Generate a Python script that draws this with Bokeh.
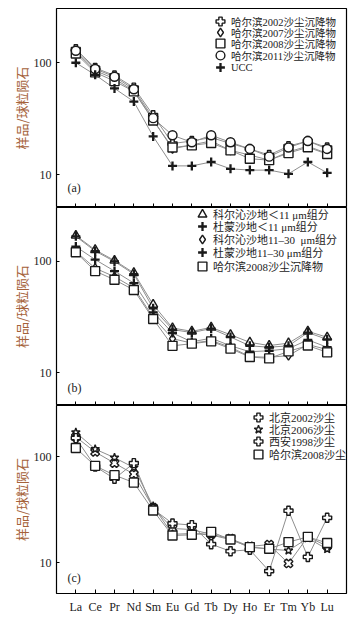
import math
from bokeh.plotting import figure
from bokeh.models import Range1d, FixedTicker, Legend, LegendItem, Label
from bokeh.layouts import column
from bokeh.embed import file_html
from bokeh.resources import INLINE

elements = ["La", "Ce", "Pr", "Nd", "Sm", "Eu", "Gd", "Tb", "Dy", "Ho", "Er", "Tm", "Yb", "Lu"]
xpos = list(range(1, 15))

# Panel (a)
harbin2002 = [132, 90, 77, 60, 34, 19, 20, 21.5, 19, 17, 15, 18, 20, 17.5]
harbin2007 = [125, 85, 72, 56, 31, 17, 18.5, 20, 16.5, 15, 13.5, 16, 18, 15.5]
harbin2008 = [121, 82, 68.5, 55.5, 30.5, 17.5, 18.3, 19.2, 16.5, 13.9, 13.5, 15.6, 17.6, 15.3]
harbin2011 = [128, 88, 75, 58, 32, 22.5, 19.5, 22.5, 19.5, 17, 14.5, 17.5, 20, 17]
ucc = [100, 78, 59, 45, 22, 12, 12, 13, 11.3, 11, 11, 10.2, 13, 10.4]

# Panel (b)
horqin_lt11 = [171, 127, 102, 79, 41, 25.3, 23.6, 25.6, 22, 18.8, 17.6, 18.5, 23.6, 20.9]
dumeng_lt11 = [168, 124, 100, 77, 38, 24.5, 23, 25, 21, 17.5, 17, 17.5, 23, 20]
horqin_11_30 = [123, 87, 73, 58, 31.5, 20.3, 18.5, 19.5, 17, 14, 13.8, 14.3, 18, 16.2]
dumeng_11_30 = [136, 104, 82, 64, 35, 22.8, 19, 20.5, 17.5, 15.5, 15.8, 16.5, 19.8, 17]

# Panel (c)
beijing2002 = [154, 111, 87, 68.5, 33, 21, 20.5, 18.5, 16.8, 14.2, 14.8, 9.8, 17.5, 14.3]
beijing2006 = [170, 118, 98, 79, 34, 18.5, 18.8, 18.2, 16.5, 14, 13.4, 13, 17, 13.4]
xian1998 = [150, 81, 62, 87, 32, 23.4, 22.6, 14.9, 12.8, 13.2, 8.3, 30.9, 11.3, 26.5]
harbin2008c = [121, 82, 67, 57, 31, 18, 18.3, 19.5, 16.5, 14, 13.5, 15.6, 17.5, 15.3]

SERIF = "Liberation Serif"
CJK = "Liberation Serif, Noto Sans CJK SC"
LABEL_COLOR = "#a5623a"

LEFT = 56
RIGHT = 4
W = LEFT + 290 + RIGHT


def make_panel(series, tag, tag_y, height, top, bottom, show_x, leg_x, leg_ys, fs):
    p = figure(width=W, height=height, y_axis_type="log",
               x_range=Range1d(0, 15), y_range=Range1d(5.1, 305),
               output_backend="svg", toolbar_location=None,
               min_border_left=LEFT, min_border_right=RIGHT,
               min_border_top=top, min_border_bottom=bottom)
    p.grid.visible = False
    p.outline_line_color = "black"
    p.outline_line_width = 1.2
    p.background_fill_color = "white"
    p.border_fill_color = "white"

    # y axis
    p.yaxis.ticker = FixedTicker(ticks=[10, 100], minor_ticks=[])
    p.yaxis.major_label_overrides = {10: "10", 100: "100"}
    p.yaxis.major_tick_in = 3
    p.yaxis.major_tick_out = 0
    p.yaxis.minor_tick_in = 0
    p.yaxis.minor_tick_out = 0
    p.yaxis.major_label_text_font = SERIF
    p.yaxis.major_label_text_font_size = "12px"
    p.yaxis.major_label_text_color = "#222222"
    p.yaxis.major_label_standoff = 5
    p.yaxis.axis_line_color = None
    p.yaxis.axis_label = "样品/球粒陨石"
    p.yaxis.axis_label_text_font = "Noto Sans CJK SC"
    p.yaxis.axis_label_text_font_size = "13px"
    p.yaxis.axis_label_text_font_style = "normal"
    p.yaxis.axis_label_text_color = LABEL_COLOR
    p.yaxis.axis_label_standoff = 0

    # x axis
    p.xaxis.ticker = FixedTicker(ticks=xpos, minor_ticks=[])
    p.xaxis.major_tick_in = 4
    p.xaxis.major_tick_out = 0
    p.xaxis.axis_line_color = None
    if show_x:
        p.xaxis.major_label_overrides = {i: e for i, e in zip(xpos, elements)}
        p.xaxis.major_label_text_font = SERIF
        p.xaxis.major_label_text_font_size = "12px"
        p.xaxis.major_label_text_color = "#222222"
        p.xaxis.major_label_standoff = 6
    else:
        p.xaxis.major_label_overrides = {i: "" for i in xpos}
        p.xaxis.major_label_text_font_size = "0px"
        p.xaxis.major_label_standoff = 0

    for label, vals, marker, angle, lw in series:
        p.line(xpos, vals, line_color="#8e8e8e", line_width=1)
    for (label, vals, marker, angle, lw), ly in zip(series, leg_ys):
        r = p.scatter(xpos, vals, marker=marker, angle=angle, size=9,
                      line_color="#1a1a1a", line_width=lw,
                      fill_color="white")
        leg = Legend(items=[LegendItem(label=label, renderers=[r])],
                     location=(leg_x, ly),
                     glyph_width=22, glyph_height=22, label_height=10,
                     spacing=0, padding=0, margin=0, label_standoff=0,
                     label_text_font=CJK, label_text_font_size=fs,
                     label_text_color="#222222",
                     border_line_alpha=0, background_fill_alpha=0)
        p.add_layout(leg, "center")

    p.add_layout(Label(x=11, y=tag_y, x_units="screen", y_units="screen", text=tag,
                       text_font=SERIF, text_font_size="12px",
                       text_color="#222222", text_baseline="middle"))
    return p


pa = make_panel([
    ("哈尔滨2002沙尘沉降物", harbin2002, "plus", 0, 1.4),
    ("哈尔滨2007沙尘沉降物", harbin2007, "diamond", 0, 1.4),
    ("哈尔滨2008沙尘沉降物", harbin2008, "square", 0, 1.4),
    ("哈尔滨2011沙尘沉降物", harbin2011, "circle", 0, 1.4),
    ("UCC", ucc, "cross", 0, 2.3),
], "(a)", 20, 207, 8, 0, False, 153, [175, 164, 153, 141, 129], "10.5px")

pb = make_panel([
    ("科尔沁沙地＜11 μm组分", horqin_lt11, "triangle", 0, 1.4),
    ("杜蒙沙地＜11 μm组分", dumeng_lt11, "cross", 0, 2.3),
    ("科尔沁沙地11–30  μm组分", horqin_11_30, "diamond", 0, 1.4),
    ("杜蒙沙地11–30 μm组分", dumeng_11_30, "cross", 0, 2.3),
    ("哈尔滨2008沙尘沉降物", harbin2008, "square", 0, 1.4),
], "(b)", 18, 198, 0, 0, False, 135, [180, 168, 155, 142, 128], "11px")

pc = make_panel([
    ("北京2002沙尘", beijing2002, "plus", math.pi / 4, 1.4),
    ("北京2006沙尘", beijing2006, "star", 0, 1.4),
    ("西安1998沙尘", xian1998, "plus", 0, 1.4),
    ("哈尔滨2008沙尘", harbin2008c, "square", 0, 1.4),
], "(c)", 16, 211, 0, 14, True, 191, [165, 153, 141, 128], "11px")

layout = column(pa, pb, pc, spacing=0)
open("out.html", "w").write(file_html(layout, INLINE))
